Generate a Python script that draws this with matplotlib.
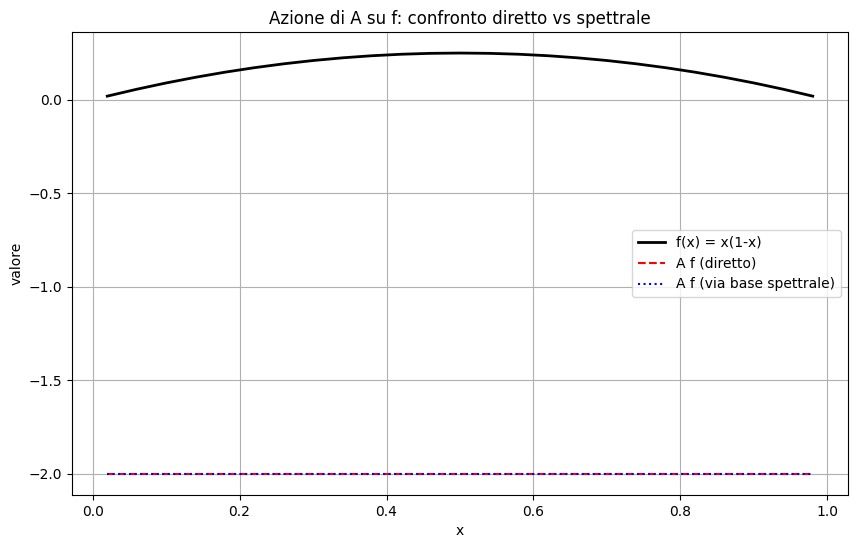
import matplotlib
matplotlib.use("Agg")
import matplotlib.pyplot as plt

x_vals = [0.02, 0.06, 0.10, 0.14, 0.18, 0.22, 0.26, 0.30, 0.34, 0.38, 0.42, 0.46, 0.50,
          0.54, 0.58, 0.62, 0.66, 0.70, 0.74, 0.78, 0.82, 0.86, 0.90, 0.94, 0.98]
f_vals = [0.0196, 0.0564, 0.09, 0.1204, 0.1476, 0.1716, 0.1924, 0.21, 0.2244, 0.2356,
          0.2436, 0.2484, 0.25, 0.2484, 0.2436, 0.2356, 0.2244, 0.21, 0.1924, 0.1716,
          0.1476, 0.1204, 0.09, 0.0564, 0.0196]
af_direct = [-2.0] * 25
af_spectral = [-2.0] * 25

fig = plt.figure(figsize=(8.57, 5.47), dpi=100)
ax = fig.add_axes([72/857, 52/547, (848-72)/857, (495-32)/547])
ax.plot(x_vals, f_vals, color='black', lw=2, label='f(x) = x(1-x)')
ax.plot(x_vals, af_direct, 'r--', label='A f (diretto)')
ax.plot(x_vals, af_spectral, 'b:', label='A f (via base spettrale)')
ax.set_title('Azione di A su f: confronto diretto vs spettrale')
ax.set_xlabel('x')
ax.set_ylabel('valore')
ax.grid(True)
ax.legend(loc='center right')
fig.savefig('out.png', dpi=100)
